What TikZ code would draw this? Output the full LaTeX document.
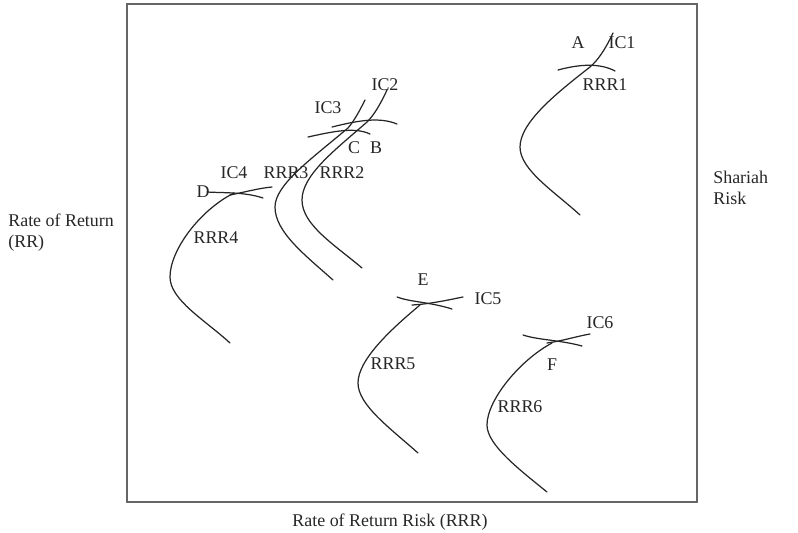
\documentclass[tikz,border=0pt]{standalone}
\usepackage{fontspec}
\setmainfont{Liberation Serif}
\begin{document}
\begin{tikzpicture}[x=0.02cm,y=-0.02cm,
  lbl/.style={inner sep=0pt,font=\fontsize{10.2}{12}\selectfont,text=black!85},
  crv/.style={line width=0.7pt,black!85,line cap=round},
  frame/.style={line width=1.1pt,black!60}]
\useasboundingbox (0,0) rectangle (798,532);
\draw[frame] (127,4) rectangle (697,502);
% RRR1 / A
\draw[crv] (613,33) .. controls (605,50) and (598,60) .. (590,67) .. controls (558,92) and (520,122) .. (520,147) .. controls (520,170) and (555,192) .. (580,215);
\draw[crv] (558,70) .. controls (580,64) and (600,63) .. (615,71);
\node[lbl] (A) at (578,43) {A};
\node[lbl] (ic1) at (622,43) {IC1};
\node[lbl] (r1) at (605,85) {RRR1};
% RRR2 / RRR3
\draw[crv] (387,90) .. controls (380,105) and (374,115) .. (367,122) .. controls (335,150) and (302,175) .. (302,200) .. controls (302,225) and (335,245) .. (362,268);
\draw[crv] (365,100) .. controls (359,112) and (354,121) .. (348,128) .. controls (310,160) and (275,185) .. (275,207) .. controls (275,232) and (305,255) .. (333,280);
\draw[crv] (308,137) .. controls (335,131) and (355,127) .. (370,134);
\draw[crv] (332,127) .. controls (360,120) and (380,117) .. (397,124);
\node[lbl] (ic2) at (385,85) {IC2};
\node[lbl] (ic3) at (328,108) {IC3};
\node[lbl] (C) at (354,148) {C};
\node[lbl] (B) at (376,148) {B};
\node[lbl] (r3) at (286,173) {RRR3};
\node[lbl] (r2) at (342,173) {RRR2};
% RRR4 / D
\draw[crv] (234,193) .. controls (200,210) and (170,250) .. (170,277) .. controls (170,300) and (205,320) .. (230,343);
\draw[crv] (207,192) .. controls (225,193) and (245,192) .. (263,198);
\draw[crv] (230,195) .. controls (245,192) and (260,188) .. (272,187);
\node[lbl] (D) at (203,192) {D};
\node[lbl] (ic4) at (234,173) {IC4};
\node[lbl] (r4) at (216,238) {RRR4};
% RRR5 / E
\draw[crv] (420,305) .. controls (390,330) and (358,360) .. (358,383) .. controls (358,405) and (390,428) .. (418,453);
\draw[crv] (397,297) .. controls (410,302) and (430,302) .. (452,309);
\draw[crv] (412,305) .. controls (430,304) and (448,300) .. (463,297);
\node[lbl] (E) at (423,280) {E};
\node[lbl] (ic5) at (488,299) {IC5};
\node[lbl] (r5) at (393,364) {RRR5};
% RRR6 / F
\draw[crv] (552,343) .. controls (520,360) and (487,400) .. (487,425) .. controls (487,445) and (520,470) .. (547,492);
\draw[crv] (523,335) .. controls (538,340) and (560,340) .. (582,346);
\draw[crv] (547,343) .. controls (562,341) and (578,336) .. (590,334);
\node[lbl] (F) at (552,365) {F};
\node[lbl] (ic6) at (600,323) {IC6};
\node[lbl] (r6) at (520,407) {RRR6};
% axis labels
\node[lbl,anchor=west,align=left] (rr) at (8,233) {Rate of Return\\(RR)};
\node[lbl,anchor=west,align=left] (sr) at (713,188) {Shariah\\Risk};
\node[lbl] (rrr) at (390,522) {Rate of Return Risk (RRR)};
\end{tikzpicture}
\end{document}
